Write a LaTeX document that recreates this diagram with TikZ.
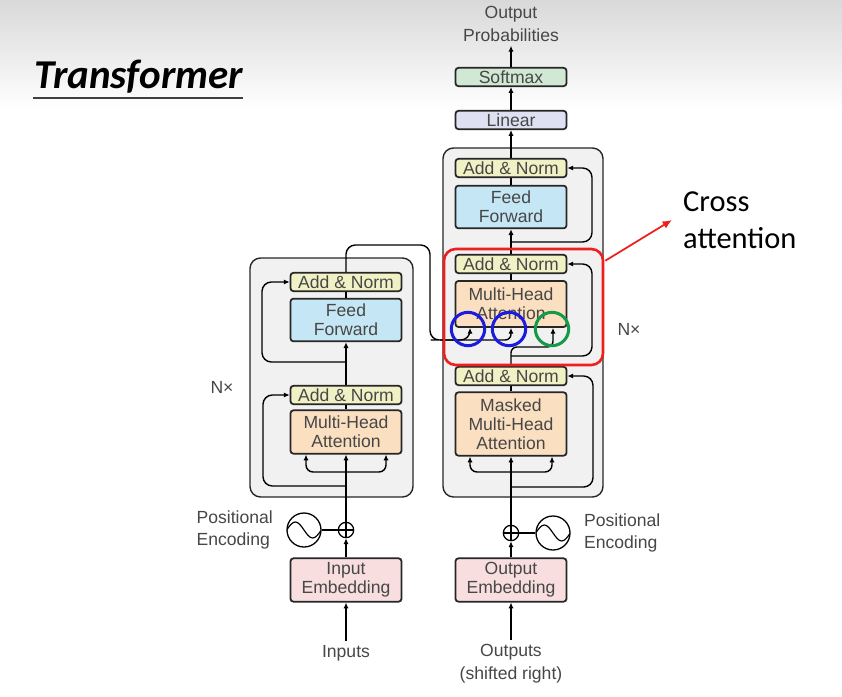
\documentclass[tikz,border=0pt]{standalone}
\usepackage{fontspec}
\setmainfont{Liberation Sans}
\newfontfamily\calibri{Carlito}
\usetikzlibrary{arrows.meta, positioning, calc}
\definecolor{normfill}{HTML}{F1F1C6}
\definecolor{fffill}{HTML}{C5E6F4}
\definecolor{attfill}{HTML}{FADFC1}
\definecolor{embfill}{HTML}{F8DEDE}
\definecolor{linfill}{HTML}{DFE1F2}
\definecolor{smfill}{HTML}{D0E8D4}
\definecolor{layerfill}{HTML}{F1F1F1}
\definecolor{txtgray}{HTML}{474747}
\definecolor{markred}{HTML}{EE1F1F}
\definecolor{markblue}{HTML}{1C1CE0}
\definecolor{markgreen}{HTML}{17994A}

\begin{document}
\begin{tikzpicture}[x=0.03cm, y=-0.03cm,
    blk/.style={draw=black!85, line width=1.5pt, rounded corners=2.5pt,
                minimum width=3.33cm, align=center, inner sep=1pt,
                font=\fontsize{15}{16}\selectfont, text=txtgray},
    normblk/.style={blk, fill=normfill, minimum height=0.55cm},
    ffblk/.style={blk, fill=fffill, minimum height=1.28cm},
    attblk/.style={blk, fill=attfill, minimum height=1.3cm},
    embblk/.style={blk, fill=embfill, minimum height=1.3cm},
    layer/.style={draw=black!85, fill=layerfill, line width=1.2pt, rounded corners=9pt},
    lbl/.style={text=txtgray, font=\fontsize{15}{19.5}\selectfont, align=center},
    conn/.style={line width=1.2pt},
    arr/.style={conn, -{Latex[length=5pt,width=4.5pt]}},
    addop/.style={circle, draw, line width=1.1pt, minimum size=0.46cm, inner sep=0pt,
                  path picture={\draw[line width=0.9pt]
                      (path picture bounding box.north) -- (path picture bounding box.south)
                      (path picture bounding box.west) -- (path picture bounding box.east);}},
    sinewave/.style={circle, draw, line width=1.1pt, minimum size=1.02cm, inner sep=0pt,
                     path picture={\draw[line width=1pt, shift={(path picture bounding box.center)}]
                         (-0.52cm,0) sin (-0.26cm,0.24cm) cos (0,0) sin (0.26cm,-0.24cm) cos (0.52cm,0);}},
    ring/.style={circle, line width=2.6pt, minimum size=1.0cm, inner sep=0pt},
]
    % Background
    \useasboundingbox (0,0) rectangle (842,696);
    \fill[white] (0,0) rectangle (842,696);
    \shade[top color=black!15, bottom color=white] (0,0) rectangle (842,110);

    % Title
    \node[font=\calibri\bfseries\itshape\fontsize{35}{40}\selectfont, inner sep=0pt, anchor=base west] (title) at (34,88) {Transformer};
    \draw[line width=1.4pt, black!75] ($(title.base west)+(-1,10)$) -- ($(title.base east)+(0,10)$);

    % Layer frames
    \node[layer, minimum width=4.89cm, minimum height=7.17cm] (encLayer) at (331.5,377.5) {};
    \node[layer, minimum width=4.8cm, minimum height=10.47cm] (decLayer) at (523,322.5) {};

    % Encoder
    \node[normblk] (encAN2) at (346,282) {Add \& Norm};
    \node[ffblk] (encFF) at (346,320) {Feed\\Forward};
    \node[normblk] (encAN1) at (346,395) {Add \& Norm};
    \node[attblk] (encMHA) at (346,432) {Multi-Head\\Attention};
    \node[embblk] (encEmb) at (346,580) {Input\\Embedding};
    \node[addop] (encPlus) at (346,530) {};
    \node[sinewave] (encPE) at (304,530) {};
    \node[lbl, align=left, anchor=east] (encPELbl) at (277,530) {Positional\\Encoding};
    \node[lbl] (inputs) at (346,653) {Inputs};
    \node[lbl] (encN) at (222,387) {N×};

    % Decoder
    \node[blk, fill=smfill, minimum height=0.55cm] (softmax) at (511,77) {Softmax};
    \node[blk, fill=linfill, minimum height=0.55cm] (linear) at (511,120) {Linear};
    \node[normblk] (decAN3) at (511,168) {Add \& Norm};
    \node[ffblk] (decFF) at (511,207) {Feed\\Forward};
    \node[normblk] (decAN2) at (511,264) {Add \& Norm};
    \node[attblk, minimum height=1.38cm] (decMHA) at (511,304) {Multi-Head\\Attention};
    \node[normblk] (decAN1) at (511,376) {Add \& Norm};
    \node[attblk, minimum height=1.9cm] (decMMHA) at (511,424) {Masked\\Multi-Head\\Attention};
    \node[embblk] (decEmb) at (511,580) {Output\\Embedding};
    \node[addop] (decPlus) at (511,533) {};
    \node[sinewave] (decPE) at (553,533) {};
    \node[lbl, align=left, anchor=west] (decPELbl) at (580,533) {Positional\\Encoding};
    \node[lbl] (outputs) at (511,664) {Outputs\\(shifted right)};
    \node[lbl] (outProb) at (511,24) {Output\\Probabilities};
    \node[lbl] (decN) at (629,329) {N×};

    % Encoder connectors
    \coordinate (encFork) at (346,472);
    \coordinate (encRes1) at (346,486);
    \coordinate (encRes2) at (346,362);
    \coordinate (encOut) at (430,245);
    \coordinate (kvIn) at (440,340);
    \draw[arr] (inputs) -- (encEmb);
    \draw[arr] (encEmb) -- (encPlus);
    \draw[conn] (encPE) -- (encPlus);
    \draw[arr] (encPlus) -- (encMHA);
    \draw[arr, rounded corners=6pt] (encFork) -| ($(encMHA.south)+(-40,0)$);
    \draw[arr, rounded corners=6pt] (encFork) -| ($(encMHA.south)+(40,0)$);
    \draw[arr, rounded corners=8pt] (encRes1) -- ++(-83,0) |- (encAN1.west);
    \draw[conn] (encMHA) -- (encAN1);
    \draw[arr] (encAN1) -- (encFF);
    \draw[arr, rounded corners=8pt] (encRes2) -- ++(-84,0) |- (encAN2.west);
    \draw[conn] (encFF) -- (encAN2);
    \draw[arr, rounded corners=8pt] (encAN2.north) |- (encOut) |- (kvIn) -| ($(decMHA.south)+(-41,0)$);
    \draw[arr, rounded corners=5pt] (kvIn) -| (decMHA.south);

    % Decoder connectors
    \coordinate (decFork) at (511,472);
    \coordinate (decRes1) at (511,487);
    \coordinate (qTurn) at (511,347);
    \coordinate (decRes2) at (511,356);
    \coordinate (decRes3) at (511,242);
    \draw[arr] (outputs) -- (decEmb);
    \draw[arr] (decEmb) -- (decPlus);
    \draw[conn] (decPE) -- (decPlus);
    \draw[arr] (decPlus) -- (decMMHA);
    \draw[arr, rounded corners=6pt] (decFork) -| ($(decMMHA.south)+(-41,0)$);
    \draw[arr, rounded corners=6pt] (decFork) -| ($(decMMHA.south)+(41,0)$);
    \draw[arr, rounded corners=8pt] (decRes1) -- ++(82,0) |- (decAN1.east);
    \draw[conn] (decMMHA) -- (decAN1);
    \draw[arr, rounded corners=5pt] (decAN1.north) -- (qTurn) -| ($(decMHA.south)+(42,0)$);
    \draw[arr, rounded corners=8pt] (decRes2) -- ++(81,0) |- (decAN2.east);
    \draw[conn] (decMHA) -- (decAN2);
    \draw[arr] (decAN2) -- (decFF);
    \draw[arr, rounded corners=8pt] (decRes3) -- ++(81,0) |- (decAN3.east);
    \draw[conn] (decFF) -- (decAN3);
    \draw[arr] (decAN3) -- (linear);
    \draw[arr] (linear) -- (softmax);
    \draw[arr] (softmax) -- (outProb);

    % Cross attention marks
    \node[draw=markred, line width=2.2pt, rounded corners=10pt, minimum width=4.77cm, minimum height=3.48cm] (crossBox) at (523.5,307) {};
    \node[ring, draw=markblue] (ringK) at (468,329) {};
    \node[ring, draw=markblue] (ringV) at (509,329) {};
    \node[ring, draw=markgreen] (ringQ) at (552,329) {};
    \node[font=\calibri\fontsize{26}{32}\selectfont, align=left, anchor=west, inner sep=0pt] (crossLbl) at (683,220) {Cross\\attention};
    \draw[markred, line width=1.5pt, -{Latex[length=8pt,width=7pt]}] ($(crossBox.north east)+(1,13)$) -- ([xshift=-0.33cm]crossLbl.west);
\end{tikzpicture}
\end{document}
